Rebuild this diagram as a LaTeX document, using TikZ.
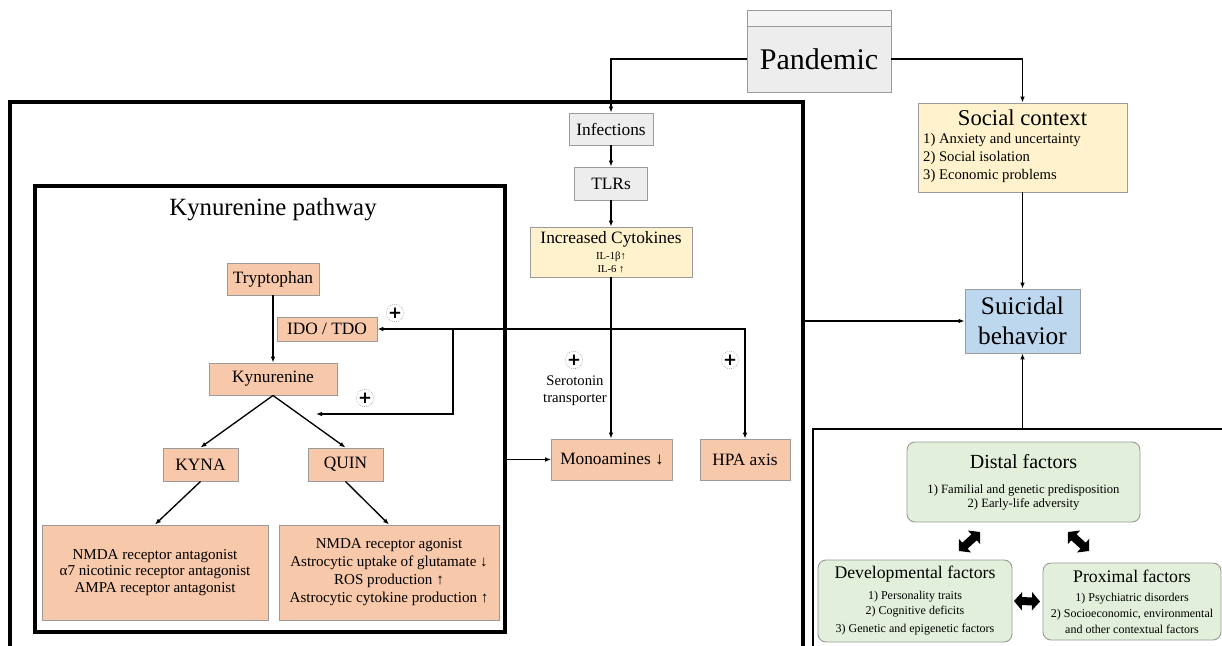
\documentclass[tikz,border=0pt]{standalone}
\usepackage{fontspec}
\setmainfont{Liberation Serif}
\newfontfamily\symfont{DejaVu Sans}
\usetikzlibrary{arrows.meta}

\definecolor{peach}{HTML}{F8C8AA}
\definecolor{cream}{HTML}{FFF2CC}
\definecolor{skyblue}{HTML}{BDD7EE}
\definecolor{sage}{HTML}{E2EFDA}
\definecolor{ash}{HTML}{EDEDED}
\definecolor{rim}{HTML}{9A9A9A}

\newcommand{\fs}[2]{\fontsize{#1}{#2}\selectfont}

\begin{document}
\begin{tikzpicture}[x=0.75pt,y=-0.75pt,
  box/.style={draw=rim,line width=0.7pt,inner sep=0pt,align=center,font=\fs{13}{15}},
  grey/.style={box,fill=ash},
  salmon/.style={box,fill=peach},
  factor/.style={box,fill=sage,rounded corners=6pt},
  frame/.style={draw=black,line width=2.8pt,inner sep=0pt},
  arr/.style={line width=1pt,-{Latex[length=4.5pt,width=3.5pt]}},
  plus/.style={circle,draw=rim,densely dotted,line width=0.5pt,inner sep=0pt,minimum size=13pt,font=\symfont\bfseries\fs{12.5}{12.5}},
  block/.style={line width=6pt,{Triangle[length=6pt,width=13.5pt]}-{Triangle[length=6pt,width=13.5pt]}}]
	\clip (0,0) rectangle (1222,646);
	% frames
	\node[frame,minimum width=594.75pt,minimum height=418.5pt] (bigframe) at (406.5,381) {};
	\node[frame,minimum width=352.5pt,minimum height=334.5pt] (kynframe) at (270,409) {};
	\node[frame,line width=1.9pt,minimum width=320.25pt,minimum height=173.25pt] (riskframe) at (1026.5,544.5) {};
	\node[font=\fs{18.6}{20}] (kyntitle) at (273,210) {Kynurenine pathway};
	% top
	\draw[draw=rim,fill=ash!60,line width=0.7pt] (747,10) rectangle (891,26);
	\node[grey,minimum width=108pt,minimum height=49.5pt,font=\fs{22.5}{26}] (pandemic) at (819,59) {Pandemic};
	\node[grey,minimum width=63pt,minimum height=24pt] (infections) at (611,129) {Infections};
	\node[grey,minimum width=54.75pt,minimum height=24.75pt] (tlrs) at (611,183.5) {TLRs};
	\node[box,fill=cream,minimum width=121.5pt,minimum height=37.5pt,font=\fs{8}{9.75}] (cytokines) at (611,252)
		{{\fs{13}{15}Increased Cytokines}\\[2.25pt] IL-1β↑\\ IL-6 ↑};
	\node[box,fill=cream,minimum width=156.75pt,minimum height=66.75pt] (social) at (1022.5,147.5)
		{\fs{11}{13.5}\begin{tabular}{@{}p{149pt}@{}}
		\multicolumn{1}{@{}c@{}}{\fs{17}{19}Social context}\\
		1) Anxiety and uncertainty\\ 2) Social isolation\\ 3) Economic problems
		\end{tabular}};
	\node[box,fill=skyblue,minimum width=86.25pt,minimum height=48pt,font=\fs{19}{22.5}] (suicidal) at (1022.5,321) {Suicidal\\behavior};
	% kynurenine pathway
	\node[salmon,minimum width=69pt,minimum height=24pt] (tryptophan) at (273,279) {Tryptophan};
	\node[salmon,minimum width=75pt,minimum height=18pt] (idotdo) at (327,329) {IDO / TDO};
	\node[salmon,minimum width=96pt,minimum height=24pt] (kynurenine) at (273,379) {Kynurenine};
	\node[salmon,minimum width=56.25pt,minimum height=24.75pt] (kyna) at (200.5,464.5) {KYNA};
	\node[salmon,minimum width=56.25pt,minimum height=24.75pt] (quin) at (345.5,464.5) {QUIN};
	\node[salmon,minimum width=169.5pt,minimum height=71.25pt,font=\fs{11.3}{12.5}] (kynaeff) at (155,572.5)
		{NMDA receptor antagonist\\ α7 nicotinic receptor antagonist\\ AMPA receptor antagonist};
	\node[salmon,minimum width=165pt,minimum height=71.25pt,font=\fs{11.3}{13.5}] (quineff) at (389,572.5)
		{NMDA receptor agonist\\ Astrocytic uptake of glutamate ↓\\ ROS production ↑\\ Astrocytic cytokine production ↑};
	\node[salmon,minimum width=90.75pt,minimum height=30.75pt] (monoamines) at (612,459.5) {Monoamines ↓};
	\node[salmon,minimum width=67.5pt,minimum height=30.75pt] (hpa) at (745,459.5) {HPA axis};
	\node[plus] (plusido) at (395,313) {+};
	\node[plus] (pluskyn) at (365,398) {+};
	\node[plus] (plussert) at (574,360) {+};
	\node[plus] (plushpa) at (730,360) {+};
	\node[font=\fs{11}{12.75},align=center] (sert) at (575,390.5) {Serotonin\\transporter};
	% risk factors
	\node[factor,minimum width=174.75pt,minimum height=60pt,font=\fs{9.5}{10}] (distal) at (1023.5,482)
		{{\fs{15}{17}Distal factors}\\[9pt] 1) Familial and genetic predisposition\\ 2) Early-life adversity};
	\node[factor,minimum width=145.5pt,minimum height=61.5pt,font=\fs{9}{11.25}] (develop) at (915,601)
		{{\fs{13.3}{15}Developmental factors}\\[4.5pt] 1) Personality traits\\ 2) Cognitive deficits\\[2.25pt] 3) Genetic and epigenetic factors};
	\node[factor,minimum width=133.5pt,minimum height=57.75pt,font=\fs{9}{12}] (proximal) at (1132,601.5)
		{{\fs{13.3}{15}Proximal factors}\\[2pt] 1) Psychiatric disorders\\ 2) Socioeconomic, environmental\\ and other contextual factors};
	% connectors
	\coordinate (j) at (611,329);
	\coordinate (k) at (453,329);
	\coordinate (kbr) at (316,414);
	\draw[arr] (pandemic.west) -| (infections.north);
	\draw[arr] (pandemic.east) -| (social.north);
	\draw[arr] (infections) -- (tlrs);
	\draw[arr] (tlrs) -- (cytokines);
	\draw[arr] (cytokines.south) -- (cytokines.south |- monoamines.north);
	\draw[arr] (j) -- (idotdo.east);
	\draw[arr] (j) -| (hpa.north);
	\draw[arr] (k) |- (kbr);
	\draw[arr] (tryptophan) -- (kynurenine);
	\draw[arr] (kynurenine.south) -- (kyna.north);
	\draw[arr] (kynurenine.south) -- (quin.north);
	\draw[arr] (kyna.south) -- (kynaeff.north);
	\draw[arr] (quin.south) -- (quineff.north);
	\draw[arr] (kynframe.east |- monoamines.west) -- (monoamines.west);
	\draw[arr] (bigframe.east |- suicidal.west) -- (suicidal.west);
	\draw[arr] (social) -- (suicidal);
	\draw[arr] (suicidal.south |- riskframe.north) -- (suicidal.south);
	\coordinate (dl1) at (959,551);
	\coordinate (dl2) at (980,532);
	\coordinate (dr1) at (1068,532);
	\coordinate (dr2) at (1089,551);
	\draw[block] (dl1) -- (dl2);
	\draw[block] (dr1) -- (dr2);
	\draw[block] (develop.east -| 1014,0) -- (proximal.west -| 1040,0);
\end{tikzpicture}
\end{document}
